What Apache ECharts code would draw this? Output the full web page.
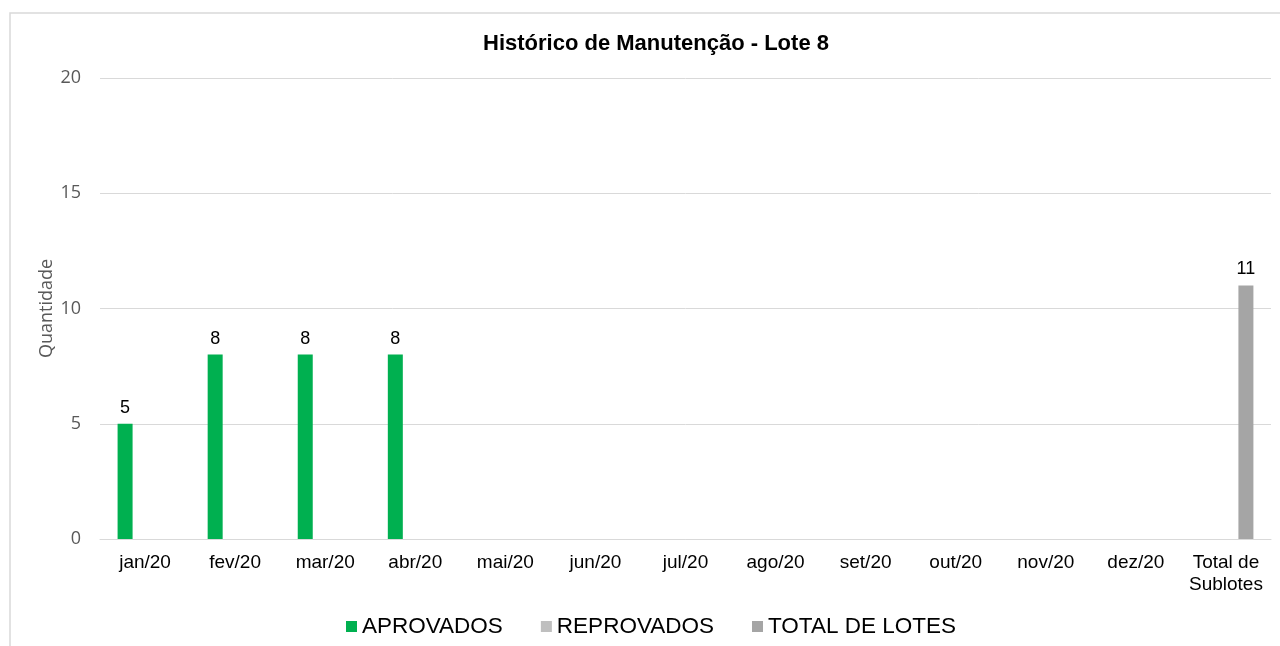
<!DOCTYPE html>
<html>
<head>
<meta charset="utf-8">
<script src="https://cdn.jsdelivr.net/npm/echarts@6/dist/echarts.min.js"></script>
<style>
  html, body { margin: 0; padding: 0; background: #fff; }
  #chart { width: 1280px; height: 646px; }
</style>
</head>
<body>
<div id="chart"></div>
<script>
// Categories (months plus the closing total column)
const categories = ['jan/20', 'fev/20', 'mar/20', 'abr/20', 'mai/20', 'jun/20', 'jul/20',
  'ago/20', 'set/20', 'out/20', 'nov/20', 'dez/20', 'Total de\nSublotes'];

// Series values
const aprovados   = [5, 8, 8, 8, null, null, null, null, null, null, null, null, null];
const reprovados  = [null, null, null, null, null, null, null, null, null, null, null, null, null];
const totalLotes  = [null, null, null, null, null, null, null, null, null, null, null, null, 11];

// Y axis ticks
const yTicks = { min: 0, max: 20, interval: 5 };

const chart = echarts.init(document.getElementById('chart'));

const barLabel = {
  show: true,
  position: 'top',
  color: '#000',
  fontFamily: 'Liberation Sans',
  fontSize: 18,
  distance: 7
};

chart.setOption({
  animation: false,
  graphic: [{
    type: 'rect',
    shape: { x: 10, y: 13, width: 1300, height: 700 },
    style: { fill: 'none', stroke: '#D9D9D9', lineWidth: 1.5 },
    silent: true
  }],
  title: {
    text: 'Histórico de Manutenção - Lote 8',
    left: 651,
    textAlign: 'center',
    top: 28,
    textStyle: { fontFamily: 'Liberation Sans', fontSize: 22, fontWeight: 'bold', color: '#000' }
  },
  legend: {
    top: 610,
    left: 341,
    itemWidth: 11,
    itemHeight: 11,
    itemGap: 38,
    icon: 'rect',
    textStyle: { fontFamily: 'Liberation Sans', fontSize: 22.5, color: '#000' },
    data: ['APROVADOS', 'REPROVADOS', 'TOTAL DE LOTES']
  },
  grid: { left: 100, right: 9, top: 78, bottom: 107, containLabel: false },
  xAxis: {
    type: 'category',
    data: categories,
    axisTick: { show: false },
    axisLine: { show: true, lineStyle: { color: '#D9D9D9', width: 1 } },
    axisLabel: {
      color: '#000',
      fontFamily: 'Liberation Sans',
      fontSize: 19,
      margin: 13,
      lineHeight: 22,
      interval: 0
    }
  },
  yAxis: {
    type: 'value',
    min: yTicks.min,
    max: yTicks.max,
    interval: yTicks.interval,
    name: 'Quantidade',
    nameLocation: 'middle',
    nameGap: 44,
    nameMoveOverlap: false,
    nameTextStyle: { fontFamily: 'Open Sans', fontSize: 18, color: '#595959' },
    axisLine: { show: false },
    axisTick: { show: false },
    axisLabel: { color: '#595959', fontFamily: 'Open Sans', fontSize: 18, margin: 19 },
    splitLine: { lineStyle: { color: '#D9D9D9', width: 1 } }
  },
  series: [
    {
      name: 'APROVADOS', type: 'bar', data: aprovados,
      barWidth: 15, barGap: '33%',
      itemStyle: { color: '#00B050' },
      label: barLabel
    },
    {
      name: 'REPROVADOS', type: 'bar', data: reprovados,
      barWidth: 15, barGap: '33%',
      itemStyle: { color: '#BFBFBF' },
      label: barLabel
    },
    {
      name: 'TOTAL DE LOTES', type: 'bar', data: totalLotes,
      barWidth: 15, barGap: '33%',
      itemStyle: { color: '#A5A5A5' },
      label: barLabel
    }
  ]
});
</script>
</body>
</html>
